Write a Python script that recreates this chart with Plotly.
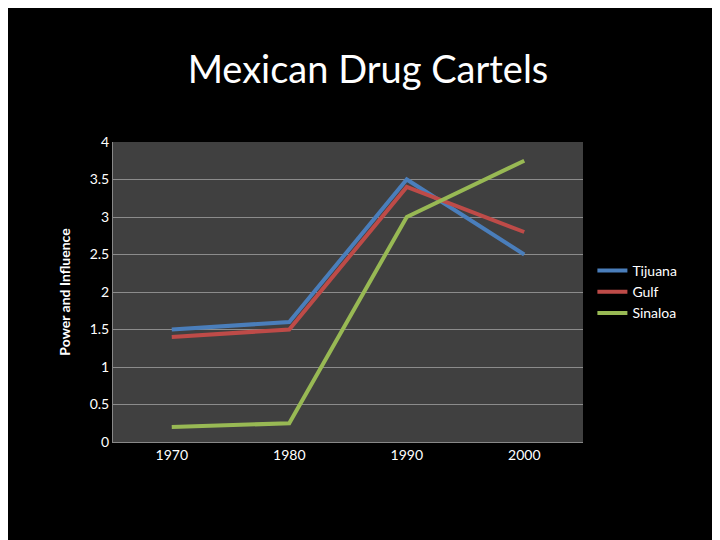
import plotly.graph_objects as go

years = ["1970", "1980", "1990", "2000"]
tijuana = [1.5, 1.6, 3.5, 2.5]
gulf = [1.4, 1.5, 3.4, 2.8]
sinaloa = [0.2, 0.25, 3.0, 3.75]

fig = go.Figure()
for name, vals, col in [("Tijuana", tijuana, "#4a7ebb"),
                        ("Gulf", gulf, "#be4b48"),
                        ("Sinaloa", sinaloa, "#98b954")]:
    fig.add_trace(go.Scatter(x=years, y=vals, name=name, mode="lines",
                             line=dict(color=col, width=4)))

fig.update_layout(
    width=720, height=540,
    paper_bgcolor="black", plot_bgcolor="#404040",
    font=dict(family="Lato, Open Sans, sans-serif", color="white", size=14),
    title=dict(text="Mexican Drug Cartels", x=0.5, xanchor="center", y=0.885,
               yanchor="middle", font=dict(size=38, color="white")),
    margin=dict(l=105, r=145, t=134, b=106),
    xaxis=dict(type="category", range=[-0.5, 3.5], showgrid=False,
               showline=True, linecolor="#888", ticks="", ticklen=0),
    yaxis=dict(range=[0, 4], dtick=0.5, gridcolor="#8c8c8c", zeroline=False,
               showline=True, linecolor="#888",
               title=dict(text="<b>Power and Influence</b>", font=dict(size=14))),
    legend=dict(x=1.02, y=0.5, xanchor="left", yanchor="middle",
                font=dict(size=14, color="white"), bgcolor="rgba(0,0,0,0)"),
)
fig.write_html("out.html")
